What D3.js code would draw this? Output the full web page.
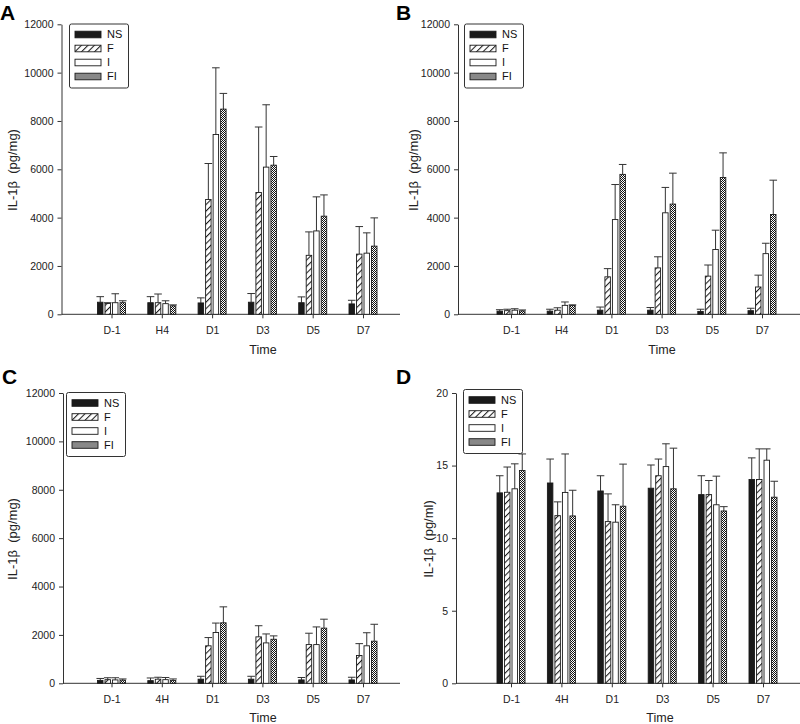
<!DOCTYPE html>
<html><head><meta charset="utf-8">
<script src="https://cdn.jsdelivr.net/npm/d3@7"></script>
<style>
body{margin:0;background:#fff}
svg{display:block;font-family:Arial,"Liberation Sans",Helvetica,sans-serif}
</style>
</head><body>
<svg id="chart" width="800" height="724"></svg>
<script>
// ---------- DATA ----------
const seriesNames = ["NS", "F", "I", "FI"];
const timeLabelsTop = ["D-1", "H4", "D1", "D3", "D5", "D7"];
const timeLabelsBottom = ["D-1", "4H", "D1", "D3", "D5", "D7"];
const ticksTissue = [0, 2000, 4000, 6000, 8000, 10000, 12000];
const ticksSerum = [0, 5, 10, 15, 20];

// Panel A (pg/mg) means and SD (upper error)
const meanA = [
  [500, 480, 470, 500, 480, 430],      // NS
  [450, 480, 4750, 5040, 2440, 2490],  // F
  [480, 440, 7440, 6090, 3450, 2530],  // I
  [480, 350, 8490, 6170, 4060, 2820]   // FI
];
const errA = [
  [230, 250, 210, 360, 240, 150],
  [30, 360, 1490, 2710, 970, 1140],
  [370, 120, 2760, 2580, 1410, 840],
  [80, 40, 650, 360, 880, 1170]
];
// Panel B (pg/mg)
const meanB = [
  [130, 130, 170, 170, 120, 150],
  [150, 170, 1550, 1920, 1580, 1130],
  [170, 370, 3920, 4200, 2680, 2510],
  [140, 370, 5790, 4560, 5660, 4130]
];
const errB = [
  [60, 80, 130, 110, 90, 100],
  [60, 100, 340, 460, 460, 490],
  [60, 140, 1450, 1050, 800, 430],
  [40, 20, 410, 1280, 1020, 1420]
];
// Panel C (pg/mg)
const meanC = [
  [120, 110, 170, 170, 140, 140],
  [150, 170, 1550, 1920, 1600, 1150],
  [140, 150, 2100, 1670, 1600, 1550],
  [130, 120, 2500, 1820, 2280, 1740]
];
const errC = [
  [80, 110, 120, 120, 100, 110],
  [80, 80, 340, 460, 470, 490],
  [90, 90, 390, 370, 730, 540],
  [50, 60, 660, 140, 370, 700]
];
// Panel D (pg/ml)
const meanD = [
  [13.12, 13.8, 13.25, 13.44, 13.0, 14.04],
  [13.16, 11.55, 11.14, 14.3, 13.0, 14.04],
  [13.4, 13.15, 11.1, 14.93, 12.3, 15.37],
  [14.66, 11.53, 12.2, 13.4, 11.87, 12.82]
];
const errD = [
  [1.18, 1.65, 1.05, 1.6, 1.3, 1.49],
  [1.74, 0.95, 1.91, 1.15, 0.97, 2.11],
  [1.72, 2.65, 1.2, 1.57, 1.97, 0.78],
  [1.14, 1.77, 2.9, 2.8, 0.3, 1.1]
];

// ---------- DRAWING ----------
const svg = d3.select("#chart");
const defs = svg.append("defs");
const ink = "#1a1a1a";

// hatch pattern for F
const hatch = defs.append("pattern").attr("id", "hatchF")
  .attr("patternUnits", "userSpaceOnUse").attr("width", 4.6).attr("height", 4.6)
  .attr("patternTransform", "rotate(45)");
hatch.append("rect").attr("width", 4.6).attr("height", 4.6).attr("fill", "#fff");
hatch.append("line").attr("x1", 0.5).attr("y1", 0).attr("x2", 0.5).attr("y2", 4.6)
  .attr("stroke", ink).attr("stroke-width", 1.1);

// checker pattern for FI
const check = defs.append("pattern").attr("id", "checkFI")
  .attr("patternUnits", "userSpaceOnUse").attr("width", 2).attr("height", 2);
check.append("rect").attr("width", 2).attr("height", 2).attr("fill", "#fff");
check.append("rect").attr("width", 1).attr("height", 1).attr("fill", "#111");
check.append("rect").attr("x", 1).attr("y", 1).attr("width", 1).attr("height", 1).attr("fill", "#111");

const fills = { NS: ink, F: "url(#hatchF)", I: "#fff", FI: "url(#checkFI)" };

function drawPanel(cfg) {
  const g = svg.append("g");
  const y = d3.scaleLinear().domain([0, cfg.yMax]).range([cfg.yBase, cfg.yTop]);
  const x = d3.scalePoint().domain(cfg.cats).range([cfg.catFirst, cfg.catLast]);
  const inner = d3.scaleBand().domain(seriesNames).range([-14, 14]).paddingInner(0.27);
  const bw = inner.bandwidth();

  // y axis
  const ya = g.append("g").attr("transform", `translate(${cfg.axisX},0)`)
    .call(d3.axisLeft(y).tickValues(cfg.ticks).tickFormat(d3.format("d"))
      .tickSize(4).tickPadding(4).tickSizeOuter(0));
  ya.selectAll("text").attr("font-size", "10.5px").attr("fill", "#222").attr("font-family", "Arial, 'Liberation Sans', sans-serif");
  ya.selectAll("line,path").attr("stroke", "#333");

  // x axis
  const xa = g.append("g").attr("transform", `translate(0,${cfg.yBase})`)
    .call(d3.axisBottom(x).tickSize(4).tickPadding(8.5));
  xa.select(".domain").remove();
  xa.selectAll("text").attr("font-size", "10.5px").attr("fill", "#222").attr("font-family", "Arial, 'Liberation Sans', sans-serif");
  xa.selectAll("line").attr("stroke", "#333");
  g.append("line").attr("x1", cfg.axisX).attr("x2", cfg.axisEnd)
    .attr("y1", cfg.yBase).attr("y2", cfg.yBase).attr("stroke", "#333");

  // bars + error bars
  seriesNames.forEach((s, si) => {
    cfg.means[si].forEach((v, i) => {
      const cx = x(cfg.cats[i]) + inner(s);
      const top = y(v + cfg.errs[si][i]);
      const mid = cx + bw / 2;
      g.append("line").attr("x1", mid).attr("x2", mid).attr("y1", y(v)).attr("y2", top)
        .attr("stroke", "#333").attr("stroke-width", 1);
      g.append("line").attr("x1", mid - 3.8).attr("x2", mid + 3.8).attr("y1", top).attr("y2", top)
        .attr("stroke", "#333").attr("stroke-width", 1);
      g.append("rect").attr("x", cx).attr("y", y(v)).attr("width", bw)
        .attr("height", cfg.yBase - y(v)).attr("fill", fills[s])
        .attr("stroke", ink).attr("stroke-width", 0.9);
    });
  });

  // legend
  const lg = g.append("g").attr("transform", `translate(${cfg.legX},${cfg.legY})`);
  lg.append("rect").attr("x", 0).attr("y", 0).attr("width", 59).attr("height", 64).attr("rx", 2)
    .attr("fill", "#fff").attr("stroke", "#333").attr("stroke-width", 1);
  const ly = d3.scalePoint().domain(seriesNames).range([10.5, 52.5]);
  seriesNames.forEach(s => {
    lg.append("rect").attr("x", 5.5).attr("y", ly(s) - 3.3).attr("width", 26).attr("height", 6.6)
      .attr("fill", fills[s]).attr("stroke", ink).attr("stroke-width", 0.9);
    lg.append("text").attr("x", 37.5).attr("y", ly(s)).attr("dy", "0.36em")
      .attr("font-size", "11px").attr("fill", "#111").text(s);
  });

  // axis titles
  g.append("text").attr("transform", `translate(${cfg.ytX},${cfg.ytY}) rotate(-90)`)
    .attr("text-anchor", "middle").attr("dy", "0.35em").attr("font-size", "13px").attr("fill", "#222")
    .attr("xml:space", "preserve").text(cfg.yTitle);
  g.append("text").attr("x", cfg.xtX).attr("y", cfg.xtY).attr("text-anchor", "middle")
    .attr("dy", "0.35em").attr("font-size", "12.5px").attr("fill", "#222").text("Time");

  // panel letter
  g.append("text").attr("x", cfg.letX).attr("y", cfg.letY).attr("font-size", "21px")
    .attr("font-weight", "bold").attr("fill", "#000").text(cfg.letter);
}

drawPanel({letter: "A", letX: 0, letY: 19.5, cats: timeLabelsTop, means: meanA, errs: errA,
  yMax: 12000, ticks: ticksTissue, yTop: 24.3, yBase: 314.3, axisX: 61.5, axisEnd: 400,
  catFirst: 111.5, catLast: 363, legX: 69.5, legY: 24, yTitle: "IL-1\u03b2  (pg/mg)",
  ytX: 12, ytY: 170, xtX: 263, xtY: 350});
drawPanel({letter: "B", letX: 396, letY: 19.5, cats: timeLabelsTop, means: meanB, errs: errB,
  yMax: 12000, ticks: ticksTissue, yTop: 24.3, yBase: 314.3, axisX: 458, axisEnd: 800,
  catFirst: 511, catLast: 762, legX: 464.5, legY: 24, yTitle: "IL-1\u03b2  (pg/mg)",
  ytX: 413, ytY: 170, xtX: 662, xtY: 350});
drawPanel({letter: "C", letX: 2, letY: 384, cats: timeLabelsBottom, means: meanC, errs: errC,
  yMax: 12000, ticks: ticksTissue, yTop: 393, yBase: 683.3, axisX: 63, axisEnd: 400,
  catFirst: 111.5, catLast: 363, legX: 66.5, legY: 392.5, yTitle: "IL-1\u03b2  (pg/mg)",
  ytX: 12, ytY: 539, xtX: 263, xtY: 718});
drawPanel({letter: "D", letX: 396, letY: 384, cats: timeLabelsBottom, means: meanD, errs: errD,
  yMax: 20, ticks: ticksSerum, yTop: 393, yBase: 683.3, axisX: 456, axisEnd: 800,
  catFirst: 511, catLast: 763, legX: 463.5, legY: 389.5, yTitle: "IL-1\u03b2  (pg/ml)",
  ytX: 428, ytY: 539, xtX: 660, xtY: 718});
</script>
</body></html>
